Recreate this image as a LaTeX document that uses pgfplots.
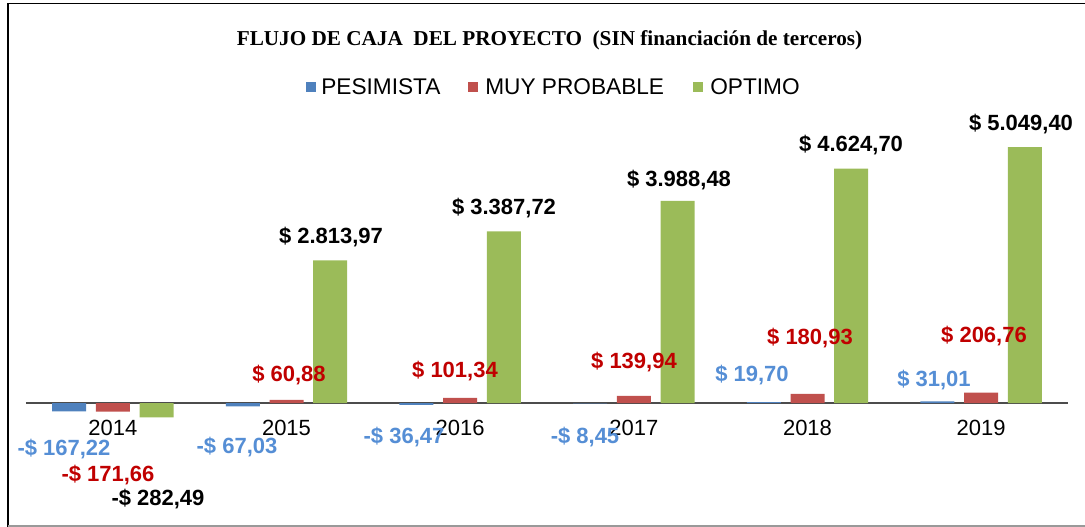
\documentclass[border=0pt]{standalone}
\usepackage{pgfplots}
\pgfplotsset{compat=1.18}
\usepackage{fontspec}
\setmainfont{Liberation Sans}
\newfontfamily\titlefont{Liberation Serif}
\definecolor{cblue}{HTML}{4F81BD}
\definecolor{cred}{HTML}{C0504D}
\definecolor{cgreen}{HTML}{9BBB59}
\definecolor{lblue}{HTML}{558ED5}
\definecolor{lred}{HTML}{C00000}
\pgfplotstableread{
x pes muy opt
0 -167.22 -171.66 -282.49
1 -67.03 60.88 2813.97
2 -36.47 101.34 3387.72
3 -8.45 139.94 3988.48
4 19.70 180.93 4624.70
5 31.01 206.76 5049.40
}\datatable
\begin{document}
\begin{tikzpicture}[x=0.75pt,y=0.75pt]
\useasboundingbox (0,0) rectangle (1085,527);
\draw[black, line width=1.3pt] (8,0) -- (8,523.5) -- (1085,523.5);
\draw[gray!80, line width=1pt] (8,1) -- (1085,1);
\begin{axis}[
  scale only axis,
  width=781.5pt, height=285.15pt,
  at={(19.5pt,5.55pt)}, anchor=south west,
  xmin=-0.5, xmax=5.5, ymin=-2300, ymax=5200,
  axis x line*=middle,
  axis y line=none,
  x axis line style={draw=black!70, line width=1.1pt},
  xtick={0,1,2,3,4,5},
  xticklabels={2014,2015,2016,2017,2018,2019},
  xtick style={draw=none},
  xticklabel style={anchor=center, yshift=-14.75pt, font=\fontsize{16.5}{19}\selectfont},
  ybar=7.3pt, bar width=25.5pt,
  clip=false,
]
\addplot[fill=cblue, draw=none] table[x=x, y=pes] {\datatable};
\addplot[fill=cred, draw=none] table[x=x, y=muy] {\datatable};
\addplot[fill=cgreen, draw=none] table[x=x, y=opt] {\datatable};
\end{axis}
% title and legend
\node[font=\titlefont\bfseries\fontsize{15.9}{18}\selectfont] at (549.5,487) {FLUJO DE CAJA\ \ DEL PROYECTO\ \ (SIN financiación de terceros)};
\begin{scope}[font=\fontsize{17}{20}\selectfont]
\fill[cblue] (306,435) rectangle (316,445);
\node[anchor=west, inner sep=0] at (321,440) {PESIMISTA};
\fill[cred] (468,435) rectangle (478,445);
\node[anchor=west, inner sep=0] at (485,440) {MUY PROBABLE};
\fill[cgreen] (693,435) rectangle (703,445);
\node[anchor=west, inner sep=0] at (710,440) {OPTIMO};
\end{scope}
% data labels
\begin{scope}[font=\bfseries\fontsize{16.5}{19}\selectfont, inner sep=0]
\node[text=lblue] at (64,78) {-\$ 167,22};
\node[text=lred] at (108,52) {-\$ 171,66};
\node[text=black] at (158,28) {-\$ 282,49};
\node[text=lblue] at (237,80) {-\$ 67,03};
\node[text=lred] at (289,152) {\$ 60,88};
\node[text=black] at (331,290) {\$ 2.813,97};
\node[text=lblue] at (404,90) {-\$ 36,47};
\node[text=lred] at (455,156) {\$ 101,34};
\node[text=black] at (504,319) {\$ 3.387,72};
\node[text=lblue] at (585,90) {-\$ 8,45};
\node[text=lred] at (634,165) {\$ 139,94};
\node[text=black] at (679,347) {\$ 3.988,48};
\node[text=lblue] at (752,152) {\$ 19,70};
\node[text=lred] at (810,189) {\$ 180,93};
\node[text=black] at (851,382) {\$ 4.624,70};
\node[text=lblue] at (934,147) {\$ 31,01};
\node[text=lred] at (984,191) {\$ 206,76};
\node[text=black] at (1021,403) {\$ 5.049,40};
\end{scope}
\end{tikzpicture}
\end{document}
